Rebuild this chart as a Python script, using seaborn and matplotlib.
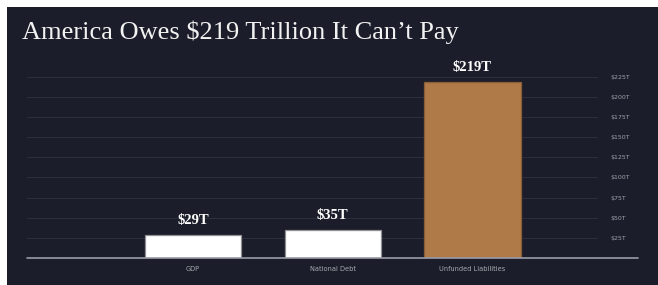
import pandas as pd
import numpy as np
from matplotlib import pyplot as plt
from matplotlib.patches import Rectangle
import seaborn as sns

categories = ['GDP', 'National Debt', 'Unfunded Liabilities']
values = [29, 35, 219]
value_labels = ['$29T', '$35T', '$219T']
y_ticks = [25, 50, 75, 100, 125, 150, 175, 200, 225]
y_tick_labels = ['$25T', '$50T', '$75T', '$100T', '$125T', '$150T', '$175T', '$200T', '$225T']

bg = '#1b1e2a'
bar_colors = ['#ffffff', '#ffffff', '#b07a48']
edge_colors = ['#8e8e94', '#8e8e94', '#8a5d36']
df = pd.DataFrame({'category': categories, 'value': values})

sns.set_style('dark')
fig = plt.figure(figsize=(6.58, 2.85), dpi=100, facecolor='white')
fig.patches.append(Rectangle((7/658, 0), 651/658, 278/285, transform=fig.transFigure,
                             facecolor=bg, edgecolor='none', zorder=-1))

ax = fig.add_axes([27/658, 27/285, 571/658, 0.664])
ax.set_facecolor(bg)
sns.barplot(data=df, x='category', y='value', hue='category',
            palette=bar_colors, saturation=1, width=0.69,
            linewidth=0.9, legend=False, ax=ax)
for p, ec in zip(ax.patches, edge_colors):
    p.set_edgecolor(ec)

ax.set_xlim(-1.19, 2.9)
ax.set_ylim(0, 235)
ax.set_yticks(y_ticks)
ax.set_yticklabels(y_tick_labels)
ax.yaxis.tick_right()
ax.tick_params(axis='y', length=0, pad=9, labelsize=4.5, labelcolor='#a0a2aa')
ax.tick_params(axis='x', length=0, pad=6, labelsize=4.8, labelcolor='#a8aab0')
ax.grid(axis='y', color='#2b2f3c', linewidth=0.8)
ax.grid(axis='x', visible=False)
ax.set_axisbelow(True)
for s in ax.spines.values():
    s.set_visible(False)
ax.set_xlabel('')
ax.set_ylabel('')

ax.plot([0, 1.07], [0, 0], transform=ax.transAxes, color='#9a9ca6',
        linewidth=1.2, clip_on=False, zorder=5)

for i, (v, lab) in enumerate(zip(values, value_labels)):
    ax.text(i, v + 10, lab, ha='center', va='bottom', color='white',
            fontsize=10.5, fontweight='bold', family='Liberation Serif')

fig.text(22/658, 1 - 39/285, "America Owes $219 Trillion It Can\u2019t Pay",
         color='#f2f2f2', fontsize=19, family='Liberation Serif', ha='left', va='baseline')

fig.savefig('out.png', dpi=100, facecolor='white')
